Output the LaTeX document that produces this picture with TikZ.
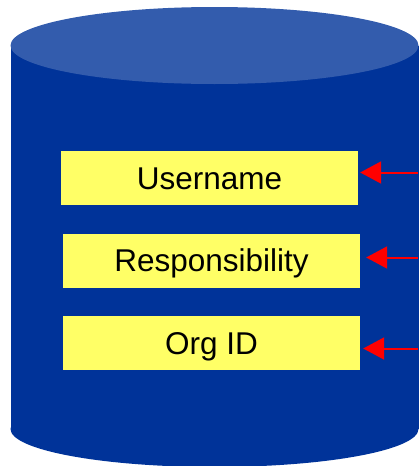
\documentclass[tikz,border=0pt]{standalone}
\usepackage{fontspec}
\setmainfont{Liberation Sans}
\usetikzlibrary{arrows.meta}
\definecolor{drumblue}{HTML}{003399}
\definecolor{lidblue}{HTML}{335CAD}
\definecolor{fieldyellow}{HTML}{FFFF66}
\tikzset{
	fieldbox/.style={fill=fieldyellow,minimum width=297pt,inner sep=0pt,text height=38pt,text depth=16pt,font=\fontsize{31.5}{38}\selectfont},
	feedarrow/.style={-{Triangle[length=21pt,width=22pt]},red,line width=2pt}
}
\begin{document}
\begin{tikzpicture}[x=1pt,y=-1pt]
		\useasboundingbox (0,0) rectangle (418,466);
		\fill[drumblue] (10.5,45.5) rectangle (418.5,429);
		\fill[drumblue] (214.5,429) ellipse [x radius=204,y radius=38];
		\fill[lidblue] (214.5,45.5) ellipse [x radius=204,y radius=38.5];
		
		\node[fieldbox] (user) at(209.5,178) {Username};
		\node[fieldbox,text height=37pt,text depth=17pt] (resp) at(211.5,261) {Responsibility};
		\node[fieldbox] (org) at(211.5,343) {Org ID};
		
		\coordinate (inuser) at(418,172.5);
		\coordinate (inresp) at(418,257.5);
		\coordinate (inorg) at(418,348.5);
		
		\draw[feedarrow,shorten >=2pt] (inuser) -- (inuser -| user.east);
		\draw[feedarrow,shorten >=6pt] (inresp) -- (inresp -| resp.east);
		\draw[feedarrow,shorten >=3pt] (inorg) -- (inorg -| org.east);
		\end{tikzpicture}
\end{document}
